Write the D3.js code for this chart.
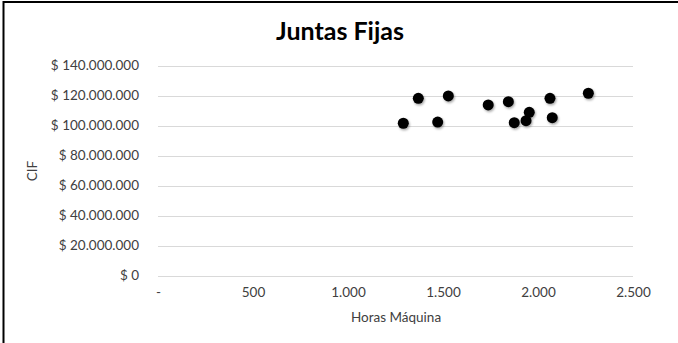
<!DOCTYPE html>
<html>
<head>
<meta charset="utf-8">
<script src="https://cdn.jsdelivr.net/npm/d3@7"></script>
<style>
  body { margin: 0; background: #fff; }
  text { font-family: Lato, "Open Sans", sans-serif; }
</style>
</head>
<body>
<div id="chart"></div>
<script>
/* DATA */
const horas = [1291, 1370, 1472, 1528, 1738, 1844, 1875, 1937, 1954, 2063, 2075, 2265];
const cif = [101500000, 118100000, 102300000, 119700000, 113700000, 115900000,
  101900000, 103200000, 108800000, 118100000, 105200000, 121500000];
const xTicks = [0, 500, 1000, 1500, 2000, 2500];
const yTicks = [0, 20000000, 40000000, 60000000, 80000000, 100000000, 120000000, 140000000];

const width = 678, height = 343;
const margin = { top: 65.5, bottom: 67.5, left: 158, right: 45 };
const fs = 13.5;

const svg = d3.select("#chart").append("svg")
  .attr("width", width)
  .attr("height", height);

// frame (left + top only)
svg.append("line").attr("x1", 3.5).attr("x2", 3.5).attr("y1", 1).attr("y2", height)
  .attr("stroke", "#000").attr("stroke-width", 2);
svg.append("line").attr("x1", 3).attr("x2", width).attr("y1", 2).attr("y2", 2)
  .attr("stroke", "#000").attr("stroke-width", 2);

const xScale = d3.scaleLinear().domain([0, 2500]).range([margin.left, width - margin.right]);
const yScale = d3.scaleLinear().domain([0, 140000000]).range([height - margin.bottom, margin.top]);

const dots = n => d3.format(",")(n).replace(/,/g, ".");

// gridlines
svg.append("g")
  .selectAll("line")
  .data(yTicks)
  .join("line")
  .attr("x1", margin.left)
  .attr("x2", width - margin.right)
  .attr("y1", d => Math.round(yScale(d)) + 0.5)
  .attr("y2", d => Math.round(yScale(d)) + 0.5)
  .attr("stroke", "#d9d9d9");

// y axis
const yAxis = d3.axisLeft(yScale).tickValues(yTicks).tickSize(0).tickPadding(0)
  .tickFormat(d => "$ " + dots(d));
svg.append("g")
  .attr("transform", `translate(139,0)`)
  .call(yAxis)
  .call(g => g.select(".domain").remove())
  .call(g => g.selectAll("text").attr("fill", "#404040").attr("font-size", fs));

// x axis
const xAxis = d3.axisBottom(xScale).tickValues(xTicks).tickSize(0).tickPadding(0)
  .tickFormat(d => d === 0 ? "-" : dots(d));
svg.append("g")
  .attr("transform", `translate(0,287)`)
  .call(xAxis)
  .call(g => g.select(".domain").remove())
  .call(g => g.selectAll("text").attr("fill", "#404040").attr("font-size", fs));

// title
svg.append("text")
  .attr("x", 340).attr("y", 40)
  .attr("text-anchor", "middle")
  .attr("font-size", 25).attr("font-weight", "bold")
  .attr("fill", "#000")
  .text("Juntas Fijas");

// axis labels
svg.append("text")
  .attr("x", 396).attr("y", 322)
  .attr("text-anchor", "middle")
  .attr("font-size", fs).attr("fill", "#404040")
  .text("Horas Máquina");

svg.append("text")
  .attr("transform", "translate(37,171) rotate(-90)")
  .attr("text-anchor", "middle")
  .attr("font-size", fs).attr("fill", "#404040")
  .text("CIF");

// shadow filter
const defs = svg.append("defs");
const f = defs.append("filter").attr("id", "sh").attr("x", "-50%").attr("y", "-50%")
  .attr("width", "200%").attr("height", "200%");
f.append("feDropShadow").attr("dx", 1).attr("dy", 1.5).attr("stdDeviation", 1.2)
  .attr("flood-color", "#000").attr("flood-opacity", 0.35);

// points
svg.append("g")
  .selectAll("circle")
  .data(horas.map((h, i) => ({ x: h, y: cif[i] })))
  .join("circle")
  .attr("cx", d => xScale(d.x))
  .attr("cy", d => yScale(d.y))
  .attr("r", 5.5)
  .attr("fill", "#000")
  .attr("filter", "url(#sh)");
</script>
</body>
</html>
